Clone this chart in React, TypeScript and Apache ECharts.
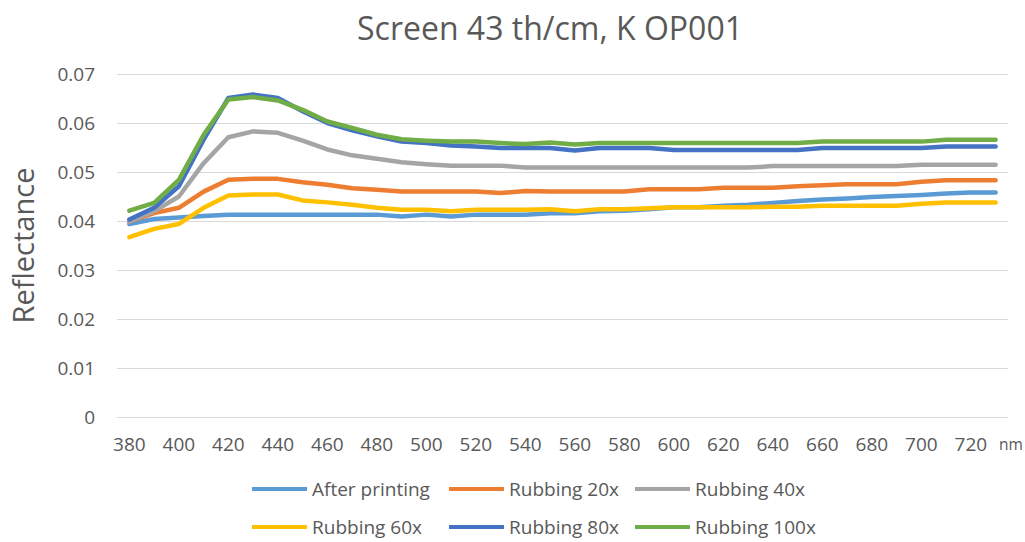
import React, { useEffect, useRef } from "react";
import * as echarts from "echarts";

const wavelengths = [380, 390, 400, 410, 420, 430, 440, 450, 460, 470, 480, 490, 500, 510, 520, 530, 540, 550, 560, 570, 580, 590, 600, 610, 620, 630, 640, 650, 660, 670, 680, 690, 700, 710, 720, 730];

const afterPrinting = [0.0394, 0.0404, 0.0407, 0.041, 0.0413, 0.0413, 0.0413, 0.0413, 0.0413, 0.0413, 0.0413, 0.0409, 0.0413, 0.0409, 0.0413, 0.0413, 0.0413, 0.0416, 0.0416, 0.042, 0.0421, 0.0424, 0.0428, 0.0428, 0.0431, 0.0433, 0.0437, 0.0441, 0.0444, 0.0446, 0.0449, 0.0451, 0.0453, 0.0456, 0.0458, 0.0458];
const rubbing20 = [0.0399, 0.0416, 0.0427, 0.046, 0.0484, 0.0486, 0.0486, 0.0479, 0.0474, 0.0467, 0.0464, 0.046, 0.046, 0.046, 0.046, 0.0457, 0.0461, 0.046, 0.046, 0.046, 0.046, 0.0465, 0.0465, 0.0465, 0.0468, 0.0468, 0.0468, 0.0471, 0.0473, 0.0475, 0.0475, 0.0475, 0.048, 0.0483, 0.0483, 0.0483];
const rubbing40 = [0.0399, 0.042, 0.045, 0.0518, 0.0571, 0.0583, 0.058, 0.0564, 0.0546, 0.0534, 0.0527, 0.052, 0.0516, 0.0513, 0.0513, 0.0513, 0.0509, 0.0509, 0.0509, 0.0509, 0.0509, 0.0509, 0.0509, 0.0509, 0.0509, 0.0509, 0.0512, 0.0512, 0.0512, 0.0512, 0.0512, 0.0512, 0.0515, 0.0515, 0.0515, 0.0515];
const rubbing60 = [0.0367, 0.0384, 0.0394, 0.0427, 0.0452, 0.0454, 0.0454, 0.0442, 0.0438, 0.0433, 0.0427, 0.0423, 0.0423, 0.042, 0.0423, 0.0423, 0.0423, 0.0424, 0.042, 0.0424, 0.0424, 0.0426, 0.0428, 0.0428, 0.0428, 0.0428, 0.0429, 0.0429, 0.0431, 0.0431, 0.0431, 0.0431, 0.0435, 0.0438, 0.0438, 0.0438];
const rubbing80 = [0.0403, 0.0427, 0.0471, 0.0566, 0.0651, 0.0658, 0.0651, 0.0624, 0.06, 0.0585, 0.0573, 0.0562, 0.0559, 0.0554, 0.0552, 0.0549, 0.0549, 0.0549, 0.0544, 0.0549, 0.0549, 0.0549, 0.0545, 0.0545, 0.0545, 0.0545, 0.0545, 0.0545, 0.0549, 0.0549, 0.0549, 0.0549, 0.0549, 0.0552, 0.0552, 0.0552];
const rubbing100 = [0.0421, 0.0437, 0.0484, 0.0576, 0.0648, 0.0653, 0.0646, 0.0627, 0.0603, 0.059, 0.0576, 0.0567, 0.0564, 0.0562, 0.0562, 0.0559, 0.0557, 0.056, 0.0556, 0.0559, 0.0559, 0.0559, 0.0559, 0.0559, 0.0559, 0.0559, 0.0559, 0.0559, 0.0562, 0.0562, 0.0562, 0.0562, 0.0562, 0.0566, 0.0566, 0.0566];

const seriesNames = ["After printing", "Rubbing 20x", "Rubbing 40x", "Rubbing 60x", "Rubbing 80x", "Rubbing 100x"];
const seriesValues = [afterPrinting, rubbing20, rubbing40, rubbing60, rubbing80, rubbing100];
const seriesColors = ["#5B9BD5", "#ED7D31", "#A5A5A5", "#FFC000", "#4472C4", "#70AD47"];
const yTicks = [0, 0.01, 0.02, 0.03, 0.04, 0.05, 0.06, 0.07];

const FONT = "'Open Sans', 'Noto Sans', sans-serif";
const TEXT = "#595959";

export default function App() {
  const ref = useRef<HTMLDivElement>(null);
  useEffect(() => {
    if (!ref.current) return;
    const chart = echarts.init(ref.current, undefined, { renderer: "svg" });
    const legendStyle = { fontFamily: FONT, fontSize: 19, lineHeight: 20, color: TEXT };
    const mkLegend = (left: number, data: string[]) => ({
      left,
      top: 479,
      padding: 0,
      orient: "vertical",
      itemWidth: 55,
      itemHeight: 4,
      itemGap: 18,
      icon: "rect",
      textStyle: legendStyle,
      data,
    });
    chart.setOption({
      animation: false,
      backgroundColor: "#ffffff",
      title: {
        text: "Screen 43 th/cm, K OP001",
        left: 545,
        top: 6,
        textAlign: "center",
        textStyle: { fontFamily: FONT, fontSize: 32, fontWeight: "normal", color: TEXT },
      },
      legend: [
        mkLegend(252, [seriesNames[0], seriesNames[3]]),
        mkLegend(449, [seriesNames[1], seriesNames[4]]),
        mkLegend(635, [seriesNames[2], seriesNames[5]]),
      ],
      grid: { left: 115, right: 17, top: 74, bottom: 125, containLabel: false },
      xAxis: {
        type: "category",
        data: wavelengths.map(String),
        boundaryGap: true,
        axisLine: { lineStyle: { color: "#D9D9D9", width: 1 } },
        axisTick: { show: false },
        axisLabel: { interval: 1, fontFamily: FONT, fontSize: 19, color: TEXT, margin: 17 },
      },
      yAxis: {
        type: "value",
        min: yTicks[0],
        max: yTicks[yTicks.length - 1],
        interval: 0.01,
        name: "Reflectance",
        nameLocation: "middle",
        nameGap: 80,
        nameTextStyle: { fontFamily: FONT, fontSize: 29, color: TEXT },
        axisLine: { show: false },
        axisTick: { show: false },
        splitLine: { lineStyle: { color: "#D9D9D9", width: 1 } },
        axisLabel: {
          fontFamily: FONT,
          fontSize: 19,
          color: TEXT,
          margin: 22,
          formatter: (v: number) => (v === 0 ? "0" : v.toFixed(2)),
        },
      },
      graphic: [
        {
          type: "text",
          left: 999,
          top: 436,
          style: { text: "nm", fontFamily: FONT, fontSize: 15.5, fill: TEXT },
        },
      ],
      series: seriesNames.map((name, i) => ({
        name,
        type: "line",
        data: seriesValues[i],
        symbol: "none",
        lineStyle: { color: seriesColors[i], width: 4.5, cap: "round", join: "round" },
        itemStyle: { color: seriesColors[i] },
      })),
    });
    return () => chart.dispose();
  }, []);
  return (
    <div
      ref={ref}
      style={{ position: "fixed", left: 0, top: 0, width: 1025, height: 542 }}
    />
  );
}
